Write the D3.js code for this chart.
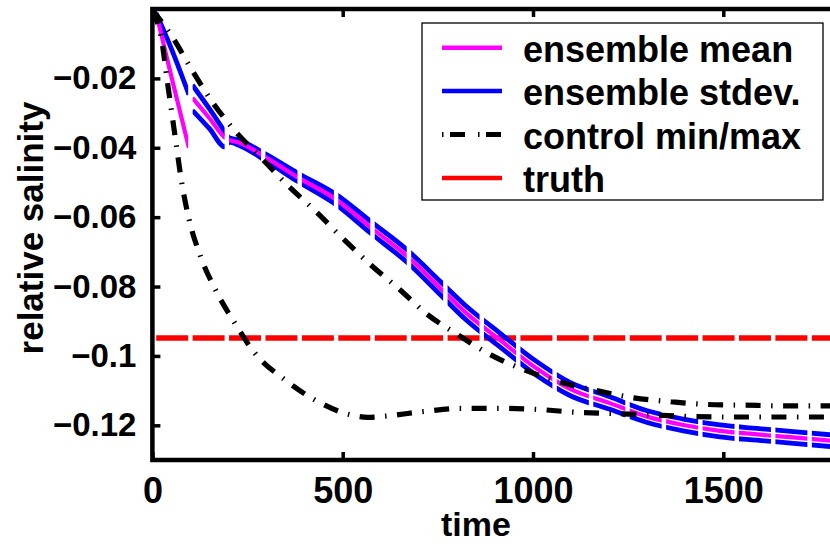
<!DOCTYPE html>
<html><head><meta charset="utf-8">
<script src="https://cdn.jsdelivr.net/npm/d3@7"></script>
<style>
html,body{margin:0;padding:0;background:#fff;}
svg{display:block;}
text{font-family:"Liberation Sans",Arial,Helvetica,sans-serif;font-weight:bold;fill:#000;}
</style>
</head><body>
<svg id="chart" width="830" height="544"></svg>
<script>
// ---------- data ----------
const xTickValues = [0, 500, 1000, 1500];
const yTickValues = [-0.12, -0.1, -0.08, -0.06, -0.04, -0.02];
const yTickLabels = ["\u22120.12", "\u22120.1", "\u22120.08", "\u22120.06", "\u22120.04", "\u22120.02"];
const legendLabels = ["ensemble mean", "ensemble stdev.", "control min/max", "truth"];
const xLabel = "time";
const yLabel = "relative salinity";
const cyclePeriod = 95.7;          // forecast cycle length (time units)
const cycleStart = 10, cycleEnd = 94;

// first forecast cycle
const firstMean = [[10, -0.0012], [50, -0.0195], [96, -0.0400]];
const firstStd  = [[10, -0.0012], [50, -0.0115], [96, -0.0247]];

const meanSeries = [[105,-0.0256],[150,-0.0315],[191,-0.0371],[201,-0.0377],[230,-0.0386],[300,-0.0429],[380,-0.0484],[485,-0.0551],[572,-0.0628],[672,-0.0715],[756,-0.0804],[821,-0.0873],[913,-0.0954],[1008,-0.1035],[1097,-0.1095],[1202,-0.1136],[1300,-0.1175],[1395,-0.1199],[1491,-0.1216],[1588,-0.1226],[1684,-0.1235],[1800,-0.1246]];
const stdUpper = [[105,-0.0219],[150,-0.0288],[191,-0.0355],[201,-0.0371],[230,-0.0379],[300,-0.0420],[380,-0.0472],[485,-0.0536],[572,-0.0611],[672,-0.0697],[756,-0.0785],[821,-0.0853],[913,-0.0934],[1008,-0.1015],[1097,-0.1076],[1202,-0.1118],[1300,-0.1158],[1395,-0.1182],[1491,-0.1199],[1588,-0.1209],[1684,-0.1218],[1800,-0.1229]];
const stdLower = [[105,-0.0292],[150,-0.0345],[191,-0.0398],[201,-0.0384],[230,-0.0394],[300,-0.0439],[380,-0.0496],[485,-0.0566],[572,-0.0645],[672,-0.0733],[756,-0.0823],[821,-0.0893],[913,-0.0974],[1008,-0.1055],[1097,-0.1114],[1202,-0.1154],[1300,-0.1192],[1395,-0.1216],[1491,-0.1233],[1588,-0.1243],[1684,-0.1252],[1800,-0.1263]];
const controlMax = [[0,-0.0003],[52,-0.0080],[105,-0.0178],[158,-0.0269],[219,-0.0354],[291,-0.0435],[357,-0.0510],[430,-0.0584],[500,-0.0661],[574,-0.0738],[648,-0.0807],[722,-0.0880],[804,-0.0940],[889,-0.0997],[979,-0.1041],[1073,-0.1076],[1167,-0.1100],[1265,-0.1121],[1362,-0.1132],[1460,-0.1140],[1559,-0.1142],[1659,-0.1144],[1800,-0.1144]];
const controlMin = [[0,-0.0003],[10,-0.0030],[22,-0.0075],[40,-0.0215],[60,-0.0370],[77,-0.0500],[96,-0.0605],[125,-0.0709],[166,-0.0810],[214,-0.0901],[270,-0.0993],[346,-0.1067],[427,-0.1127],[521,-0.1170],[565,-0.1177],[617,-0.1173],[714,-0.1160],[810,-0.1151],[910,-0.1151],[1010,-0.1154],[1106,-0.1162],[1207,-0.1166],[1305,-0.1170],[1402,-0.1174],[1502,-0.1176],[1602,-0.1176],[1702,-0.1176],[1800,-0.1176]];
const truthSeries = [[0, -0.0948], [1800, -0.0948]];

// ---------- layout ----------
const svg = d3.select("#chart");
const pL = 152.4, pR = 913.6, pT = 9, pB = 460;
const x = d3.scaleLinear().domain([0, 2000]).range([pL, pR]);
const y = d3.scaleLinear().domain([-0.13, 0]).range([pB, pT]);

const defs = svg.append("defs");
defs.append("clipPath").attr("id", "plotClip").append("rect")
  .attr("x", pL).attr("y", pT).attr("width", pR - pL).attr("height", pB - pT);
const cyc = defs.append("clipPath").attr("id", "cycleClip");
const nCycles = Math.ceil(2000 / cyclePeriod);
for (let k = 0; k <= nCycles; k++) {
  const a = x(k * cyclePeriod + cycleStart), b = x(k * cyclePeriod + cycleEnd);
  cyc.append("rect").attr("x", a).attr("y", pT).attr("width", b - a).attr("height", pB - pT);
}

const line = d3.line().x(d => x(d[0])).y(d => y(d[1])).curve(d3.curveMonotoneX);

const seg = svg.append("g").attr("clip-path", "url(#cycleClip)");
const drawSeg = (data, color, w) => seg.append("path").datum(data)
  .attr("d", line).attr("fill", "none").attr("stroke", color).attr("stroke-width", w);

drawSeg(truthSeries, "#ff0000", 5.5);
drawSeg(firstStd, "#0000ff", 4.8);
drawSeg(stdUpper, "#0000ff", 4.8);
drawSeg(stdLower, "#0000ff", 4.8);
drawSeg(firstMean, "#ff00ff", 4.2);
drawSeg(meanSeries, "#ff00ff", 4.2);

const ctl = svg.append("g").attr("clip-path", "url(#plotClip)");
[controlMax, controlMin].forEach(s => ctl.append("path").datum(s)
  .attr("d", line).attr("fill", "none").attr("stroke", "#000").attr("stroke-width", 5.2)
  .attr("stroke-dasharray", "15,10.5,1.5,10.5"));

// ---------- axes ----------
const xAxis = svg.append("g").attr("transform", `translate(0,${pB})`)
  .call(d3.axisBottom(x).tickValues(xTickValues).tickSize(-8).tickSizeOuter(0).tickPadding(17).tickFormat(d3.format("d")));
const xTop = svg.append("g").attr("transform", `translate(0,${pT})`)
  .call(d3.axisTop(x).tickValues(xTickValues).tickSize(-8).tickSizeOuter(0).tickFormat(""));
const yAxis = svg.append("g").attr("transform", `translate(${pL},0)`)
  .call(d3.axisLeft(y).tickValues(yTickValues).tickSize(-8).tickSizeOuter(0).tickPadding(16)
    .tickFormat((d, i) => yTickLabels[i]));
[xAxis, xTop, yAxis].forEach(g => {
  g.attr("font-family", null).attr("font-size", null);
  g.select(".domain").remove();
  g.selectAll(".tick line").attr("stroke", "#000").attr("stroke-width", 3.5);
});
xAxis.selectAll("text").style("font-size", "36px");
yAxis.selectAll("text").style("font-size", "33px");

svg.append("rect").attr("x", pL).attr("y", pT).attr("width", pR - pL).attr("height", pB - pT)
  .attr("fill", "none").attr("stroke", "#000").attr("stroke-width", 4.5);

svg.append("text").attr("x", x(850)).attr("y", 536).attr("text-anchor", "middle")
  .style("font-size", "34px").text(xLabel);
svg.append("text").attr("transform", "translate(43,228) rotate(-90)").attr("text-anchor", "middle")
  .style("font-size", "35px").text(yLabel);

// ---------- legend ----------
const lg = svg.append("g");
lg.append("rect").attr("x", 422).attr("y", 23).attr("width", 401).attr("height", 177)
  .attr("fill", "#fff").attr("stroke", "#000").attr("stroke-width", 1.3);
const legendColors = ["#ff00ff", "#0000ff", "#000", "#ff0000"];
const legendDash = [null, null, "1.5,6.5,15,13", null];
legendLabels.forEach((lab, i) => {
  const ly = 47.7 + i * 43.4;
  lg.append("line").attr("x1", 442).attr("x2", 502).attr("y1", ly).attr("y2", ly)
    .attr("stroke", legendColors[i]).attr("stroke-width", i === 2 ? 5 : 4.5)
    .attr("stroke-dasharray", legendDash[i]);
  lg.append("text").attr("x", 523).attr("y", ly + 14.3).style("font-size", "36px").text(lab);
});
</script>
</body></html>
